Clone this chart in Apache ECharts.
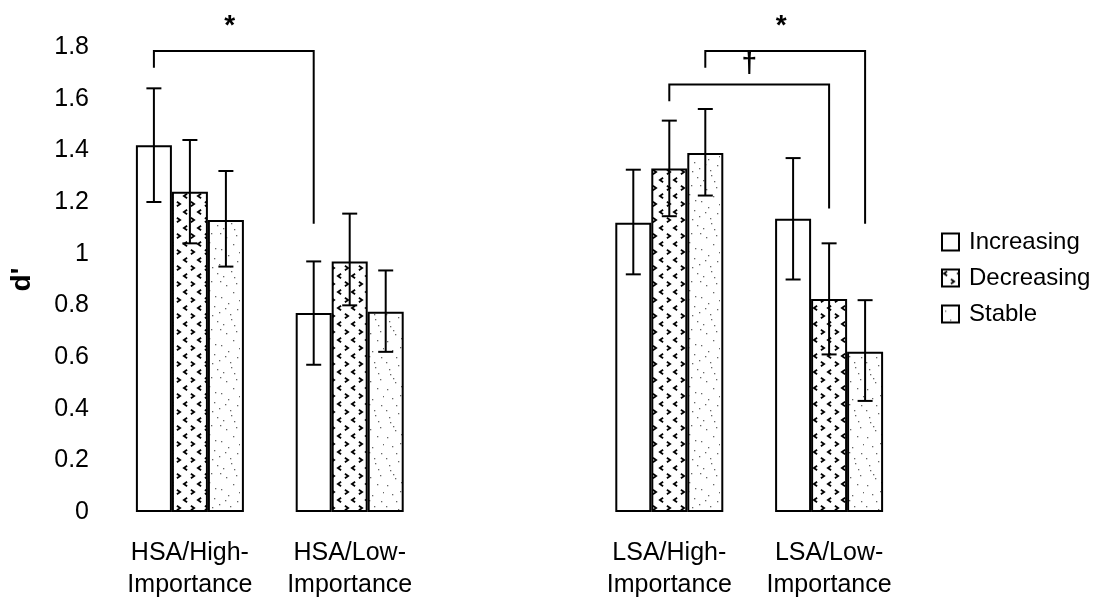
<!DOCTYPE html>
<html>
<head>
<meta charset="utf-8">
<script src="https://cdn.jsdelivr.net/npm/echarts@6/dist/echarts.min.js"></script>
<style>
  html, body { margin: 0; padding: 0; background: #fff; }
  #main { width: 1111px; height: 605px; }
</style>
</head>
<body>
<div id="main"></div>
<script>
// categories (middle slot is the empty gap between HSA and LSA groups)
var categories = ['HSA/High-\nImportance', 'HSA/Low-\nImportance', '', 'LSA/High-\nImportance', 'LSA/Low-\nImportance'];
var seriesNames = ['Increasing', 'Decreasing', 'Stable'];

// d' means
var increasing = [1.42, 0.77, null, 1.12, 1.135];
var decreasing = [1.24, 0.97, null, 1.33, 0.825];
var stable     = [1.13, 0.775, null, 1.39, 0.62];

// error bar ends
var increasingLow  = [1.20, 0.57, null, 0.92, 0.90];
var increasingHigh = [1.64, 0.97, null, 1.325, 1.37];
var decreasingLow  = [1.04, 0.80, null, 1.145, 0.61];
var decreasingHigh = [1.44, 1.155, null, 1.515, 1.04];
var stableLow      = [0.95, 0.62, null, 1.225, 0.43];
var stableHigh     = [1.32, 0.935, null, 1.56, 0.82];

// y ticks
var yMin = 0, yMax = 1.8, yStep = 0.2;

// significance brackets: [category, series] at each end
var bracketFrom     = [[0, 0], [3, 2], [3, 1]];
var bracketTo       = [[1, 0], [4, 2], [4, 1]];
var bracketTop      = [1.785, 1.785, 1.655];
var bracketLeftEnd  = [1.72, 1.72, 1.59];
var bracketRightEnd = [1.116, 1.116, 1.175];
var bracketMark     = ['*', '*', '\u2020'];

var BAR_W = 36;
var FONT = '"Liberation Sans", Arial, Helvetica, sans-serif';

function chevronPattern() {
  var c = document.createElement('canvas');
  c.width = 14; c.height = 16;
  var g = c.getContext('2d');
  g.fillStyle = '#fff';
  g.fillRect(0, 0, 14, 16);
  g.strokeStyle = '#000';
  g.lineWidth = 1.8;
  function chev(cx, cy, dir) {
    g.beginPath();
    g.moveTo(cx - 1.6 * dir, cy - 2.2);
    g.lineTo(cx + 1.6 * dir, cy);
    g.lineTo(cx - 1.6 * dir, cy + 2.2);
    g.stroke();
  }
  chev(3.5, 4, -1);
  chev(10.5, 12, 1);
  return c;
}

function stipplePattern() {
  var c = document.createElement('canvas');
  c.width = 48; c.height = 48;
  var g = c.getContext('2d');
  g.fillStyle = '#fff';
  g.fillRect(0, 0, 48, 48);
  g.fillStyle = '#666';
  var dots = [[3,5],[17,2],[29,9],[41,4],[8,14],[22,18],[36,15],[45,21],[2,26],[14,29],[27,24],[39,31],
              [6,38],[19,41],[31,36],[44,43],[11,46],[25,33],[34,45],[47,12],[12,21],[38,26],[23,8],[5,33],
              [16,11],[33,20],[9,42],[42,37],[28,41],[20,27]];
  dots.forEach(function (d) { g.fillRect(d[0], d[1], 1.3, 1.3); });
  return c;
}

var fills = [
  '#fff',
  { image: chevronPattern(), repeat: 'repeat' },
  { image: stipplePattern(), repeat: 'repeat' }
];
var means = [increasing, decreasing, stable];
var lows = [increasingLow, decreasingLow, stableLow];
var highs = [increasingHigh, decreasingHigh, stableHigh];

var errData = [];
for (var s = 0; s < 3; s++) {
  for (var i = 0; i < categories.length; i++) {
    if (lows[s][i] != null) errData.push([i, s, lows[s][i], highs[s][i]]);
  }
}

var barSeries = seriesNames.map(function (name, s) {
  return {
    name: name,
    type: 'bar',
    barWidth: BAR_W,
    barGap: '0%',
    data: means[s].map(function (v) { return v == null ? '-' : v; }),
    itemStyle: { color: fills[s], borderColor: '#000', borderWidth: 2 }
  };
});

var chart = echarts.init(document.getElementById('main'));
chart.setOption({
  animation: false,
  backgroundColor: '#fff',
  grid: { left: 109, right: 202, top: 47, bottom: 93 },
  legend: {
    data: seriesNames,
    orient: 'vertical',
    left: 936,
    top: 225,
    itemWidth: 17,
    itemHeight: 17,
    itemGap: 12,
    icon: 'rect',
    textStyle: { fontFamily: FONT, fontSize: 24, color: '#000', padding: [0, 0, 0, 5] }
  },
  xAxis: {
    type: 'category',
    data: categories,
    axisLine: { show: false },
    axisTick: { show: false },
    axisLabel: { fontFamily: FONT, fontSize: 25, color: '#000', lineHeight: 32, margin: 25, interval: 0 }
  },
  yAxis: {
    type: 'value',
    min: yMin,
    max: yMax,
    interval: yStep,
    name: "d'",
    nameLocation: 'middle',
    nameGap: 74,
    nameTextStyle: { fontFamily: FONT, fontSize: 28, fontWeight: 'bold', color: '#000' },
    axisLine: { show: false },
    axisTick: { show: false },
    splitLine: { show: false },
    axisLabel: {
      fontFamily: FONT, fontSize: 25, color: '#000', margin: 21,
      formatter: function (v) { return String(Math.round(v * 10) / 10); }
    }
  },
  series: barSeries.concat([
    {
      type: 'custom',
      name: 'errors',
      z: 5,
      clip: false,
      encode: { x: 0, y: [2, 3] },
      data: errData,
      renderItem: function (params, api) {
        var cat = api.value(0), s = api.value(1);
        var lo = api.coord([cat, api.value(2)]);
        var hi = api.coord([cat, api.value(3)]);
        var x = lo[0] + (s - 1) * BAR_W;
        var cap = 7.5;
        var st = { stroke: '#000', lineWidth: 2 };
        return {
          type: 'group',
          children: [
            { type: 'line', shape: { x1: x, y1: lo[1], x2: x, y2: hi[1] }, style: st },
            { type: 'line', shape: { x1: x - cap, y1: hi[1], x2: x + cap, y2: hi[1] }, style: st },
            { type: 'line', shape: { x1: x - cap, y1: lo[1], x2: x + cap, y2: lo[1] }, style: st }
          ]
        };
      }
    },
    {
      type: 'custom',
      name: 'brackets',
      z: 6,
      clip: false,
      encode: { x: 0, y: 1 },
      data: bracketTop.map(function (t, i) { return [bracketFrom[i][0], t]; }),
      renderItem: function (params, api) {
        var i = params.dataIndex;
        var xA = api.coord([bracketFrom[i][0], 0])[0] + (bracketFrom[i][1] - 1) * BAR_W;
        var xB = api.coord([bracketTo[i][0], 0])[0] + (bracketTo[i][1] - 1) * BAR_W;
        var yT = api.coord([0, bracketTop[i]])[1];
        var yL = api.coord([0, bracketLeftEnd[i]])[1];
        var yR = api.coord([0, bracketRightEnd[i]])[1];
        var isStar = bracketMark[i] === '*';
        return {
          type: 'group',
          children: [
            {
              type: 'polyline',
              shape: { points: [[xA, yL], [xA, yT], [xB, yT], [xB, yR]] },
              style: { stroke: '#000', lineWidth: 2, fill: null }
            },
            {
              type: 'text',
              x: (xA + xB) / 2 - (isStar ? 4 : 0),
              y: yT - (isStar ? 25 : 20),
              style: {
                text: bracketMark[i],
                font: 'bold 28px ' + FONT,
                fill: '#000',
                align: 'center', verticalAlign: 'middle',
                textAlign: 'center', textVerticalAlign: 'middle'
              }
            }
          ]
        };
      }
    }
  ])
});
</script>
</body>
</html>
